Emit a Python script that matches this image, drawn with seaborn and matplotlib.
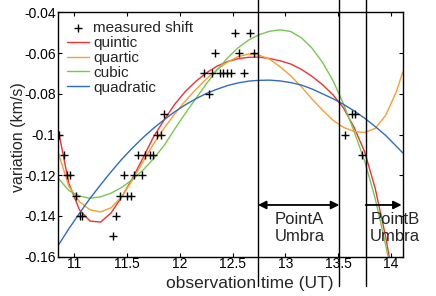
import numpy as np
import matplotlib
matplotlib.use("Agg")
import matplotlib.pyplot as plt
import matplotlib.transforms as mtransforms
import seaborn as sns

# measured shift (observation time UT, variation km/s)
obs_time = [10.856, 10.903, 10.935, 10.964, 11.021, 11.059, 11.078, 11.368, 11.40,
            11.435, 11.505, 11.537, 11.47, 11.568, 11.638, 11.60, 11.67, 11.714, 11.743,
            11.786, 11.82, 11.853, 12.277, 12.23, 12.309, 12.382, 12.413, 12.451, 12.486,
            12.61, 12.337, 12.562, 12.707, 12.524, 12.66, 13.632, 13.657, 13.562, 13.727]
obs_shift = [-0.10, -0.11, -0.12, -0.12, -0.13, -0.14, -0.14, -0.15, -0.14,
             -0.13, -0.13, -0.13, -0.12, -0.12, -0.12, -0.11, -0.11, -0.11, -0.11,
             -0.10, -0.10, -0.09, -0.08, -0.07, -0.07, -0.07, -0.07, -0.07, -0.07,
             -0.07, -0.06, -0.06, -0.06, -0.05, -0.05, -0.09, -0.09, -0.10, -0.11]

# fitted curves
curve_x = [10.85, 10.95, 11.05, 11.15, 11.25, 11.35, 11.45, 11.55, 11.65, 11.75, 11.85,
           11.95, 12.05, 12.15, 12.25, 12.35, 12.45, 12.55, 12.65, 12.75, 12.85, 12.95,
           13.05, 13.15, 13.25, 13.35, 13.45, 13.55, 13.65, 13.75, 13.85, 13.95, 14.05, 14.11]
quintic = [-0.098, -0.124, -0.137, -0.1425, -0.143, -0.1385, -0.1307, -0.1217, -0.1117,
           -0.1013, -0.0930, -0.0853, -0.0790, -0.0740, -0.0698, -0.0665, -0.0642, -0.0628,
           -0.0621, -0.0620, -0.0627, -0.0638, -0.0654, -0.0680, -0.0714, -0.0755, -0.0805,
           -0.0870, -0.0965, -0.1085, -0.1265, -0.1505, -0.180, -0.200]
quartic = [-0.109, -0.1255, -0.1330, -0.1370, -0.1380, -0.1360, -0.1305, -0.1225, -0.1135,
           -0.1048, -0.0970, -0.0900, -0.0837, -0.0780, -0.0728, -0.0683, -0.0645, -0.0618,
           -0.0605, -0.0610, -0.0630, -0.0668, -0.0712, -0.0765, -0.0825, -0.0880, -0.0930,
           -0.0965, -0.0985, -0.0990, -0.0970, -0.0905, -0.0790, -0.0694]
cubic = [-0.1215, -0.1275, -0.1302, -0.1313, -0.1306, -0.1288, -0.1260, -0.1222, -0.1176,
         -0.1120, -0.1055, -0.0975, -0.0898, -0.0825, -0.0752, -0.0685, -0.0625, -0.0575,
         -0.0537, -0.0510, -0.0493, -0.0486, -0.0494, -0.0525, -0.0575, -0.0645, -0.0735,
         -0.0850, -0.0985, -0.1130, -0.1315, -0.1545, -0.180, -0.197]
quadratic = [-0.1544, -0.1463, -0.1387, -0.1314, -0.1247, -0.1183, -0.1122, -0.1067, -0.1016,
             -0.0970, -0.0928, -0.0889, -0.0855, -0.0825, -0.0799, -0.0778, -0.0760, -0.0747,
             -0.0738, -0.0734, -0.0733, -0.0737, -0.0745, -0.0757, -0.0776, -0.0800, -0.0824,
             -0.0852, -0.0884, -0.0920, -0.0961, -0.1005, -0.1058, -0.1090]

fit_names = ["quintic", "quartic", "cubic", "quadratic"]
fit_colors = ["#f03232", "#fa9f32", "#78c850", "#2f6cc0"]

# umbra boundaries (UT)
umbra_edges = [12.74, 13.51, 13.76]

xticks = [11, 11.5, 12, 12.5, 13, 13.5, 14]
xtick_labels = ["11", "11.5", "12", "12.5", "13", "13.5", "14"]
yticks = [-0.16, -0.14, -0.12, -0.1, -0.08, -0.06, -0.04]
ytick_labels = ["-0.16", "-0.14", "-0.12", "-0.1", "-0.08", "-0.06", "-0.04"]

sns.set_style("ticks")
plt.rcParams["font.family"] = ["Liberation Sans", "DejaVu Sans"]

fig = plt.figure(figsize=(4.36, 2.96), dpi=100)
ax = fig.add_axes([0.1337, 0.1328, 0.7899, 0.8256])

sns.scatterplot(x=obs_time, y=obs_shift, marker="+", s=30, color="black",
                linewidth=1.0, label="measured shift", ax=ax, zorder=4)
for name, ys, col in zip(fit_names, [quintic, quartic, cubic, quadratic], fit_colors):
    sns.lineplot(x=curve_x, y=ys, color=col, lw=1.0, label=name, sort=False,
                 estimator=None, ax=ax)

ax.set_xlim(10.85, 14.11)
ax.set_ylim(-0.16, -0.04)
ax.set_xticks(xticks)
ax.set_xticklabels(xtick_labels)
ax.set_yticks(yticks)
ax.set_yticklabels(ytick_labels)
ax.tick_params(direction="in", top=True, right=True, length=3, width=0.8,
               labelsize=10, pad=2, colors="black")
ax.tick_params(axis="x", pad=0.5)
for sp in ax.spines.values():
    sp.set_linewidth(1.0)
    sp.set_color("black")

ax.set_xlabel("observation time (UT)", fontsize=12.5)
ax.set_ylabel("variation (km/s)", fontsize=11.5)
ax.xaxis.set_label_coords(0.555, -0.08)
ax.yaxis.set_label_coords(-0.095, 0.49)

# vertical boundary lines running past the axes
trans = mtransforms.blended_transform_factory(ax.transData, ax.transAxes)
for xv in umbra_edges:
    ax.plot([xv, xv], [-0.12, 1.06], color="black", lw=1.0, transform=trans,
            clip_on=False, zorder=5)

arrow_y = -0.1346
ax.annotate("", xy=(umbra_edges[1], arrow_y), xytext=(umbra_edges[0], arrow_y),
            arrowprops=dict(arrowstyle="<|-|>", color="black", lw=1.3,
                            mutation_scale=12, shrinkA=0, shrinkB=0))
ax.annotate("", xy=(14.10, arrow_y), xytext=(umbra_edges[2], arrow_y),
            arrowprops=dict(arrowstyle="-|>", color="black", lw=1.3,
                            mutation_scale=12, shrinkA=0, shrinkB=0))
ax.text(13.135, -0.146, "PointA\nUmbra", ha="center", va="center", fontsize=12,
        linespacing=1.15)
ax.text(14.037, -0.146, "PointB\nUmbra", ha="center", va="center", fontsize=12,
        linespacing=1.15, clip_on=False)

ax.legend(loc="upper left", frameon=False, fontsize=11, handlelength=1.4,
          handletextpad=0.3, labelspacing=0.05, borderaxespad=0.4, borderpad=0.2)

fig.savefig("out.png", dpi=100)
